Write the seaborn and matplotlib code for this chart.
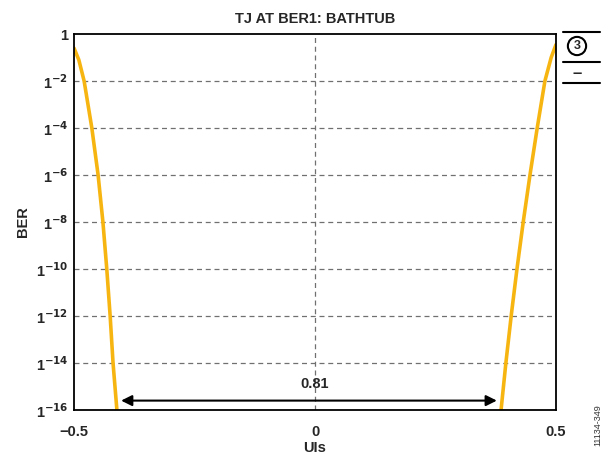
import numpy as np
import pandas as pd
import seaborn as sns
import matplotlib.pyplot as plt

# bathtub curve (x in UI, y as log10 BER)
left_ui = [-0.500, -0.490, -0.479, -0.463, -0.450, -0.440, -0.432, -0.425, -0.419, -0.411]
left_logber = [-0.6, -1.1, -2, -4, -6, -8, -10, -12, -14, -16]
right_ui = [0.386, 0.396, 0.407, 0.419, 0.432, 0.446, 0.461, 0.477, 0.490, 0.500]
right_logber = [-16, -14, -12, -10, -8, -6, -4, -2, -1.0, -0.45]

y_ticks = [0, -2, -4, -6, -8, -10, -12, -14, -16]
y_labels = ["1"] + ["1$^{%d}$" % t for t in y_ticks[1:]]
x_ticks = [-0.5, 0, 0.5]
x_labels = ["\u22120.5", "0", "0.5"]
eye_width = "0.81"

df = pd.concat([
    pd.DataFrame({"UIs": left_ui, "BER": 10.0 ** np.array(left_logber), "side": "L"}),
    pd.DataFrame({"UIs": right_ui, "BER": 10.0 ** np.array(right_logber), "side": "R"}),
])

sns.set_style("white")
plt.rcParams["font.family"] = ["Liberation Sans", "DejaVu Sans"]
plt.rcParams["font.weight"] = "bold"
plt.rcParams["mathtext.default"] = "bf"

fig = plt.figure(figsize=(6.05, 4.61), dpi=100)
ax = fig.add_axes([74 / 605, 1 - 410 / 461, 482 / 605, 376 / 461])

sns.lineplot(data=df, x="UIs", y="BER", units="side", estimator=None,
             color="#F7B512", linewidth=2.6, ax=ax, sort=False)

ax.set_yscale("log")
ax.set_xlim(-0.5, 0.5)
ax.set_ylim(1e-16, 1)
ax.set_yticks([10.0 ** t for t in y_ticks])
ax.set_yticklabels(y_labels, fontsize=10.5, fontweight="bold")
ax.minorticks_off()
ax.set_xticks(x_ticks)
ax.set_xticklabels(x_labels, fontsize=10.5, fontweight="bold")
ax.tick_params(axis="y", length=0, pad=4)
ax.tick_params(axis="x", length=0, pad=11)

for t in y_ticks[1:]:
    ax.axhline(10.0 ** t, color="#707070", linestyle=(0, (4, 3)), linewidth=0.9, zorder=0)
ax.axvline(0, color="#707070", linestyle=(0, (4, 3)), linewidth=0.9, zorder=0)

for s in ax.spines.values():
    s.set_linewidth(1.3)
    s.set_color("black")

ax.set_title("TJ AT BER1: BATHTUB", fontsize=10.5, fontweight="bold", pad=8)
ax.set_xlabel("UIs", fontsize=10.5, fontweight="bold", labelpad=1)
ax.set_ylabel("BER", fontsize=10.5, fontweight="bold", labelpad=4)

# eye opening arrow
ax.annotate("", xy=(left_ui[-1] + 0.003, 10 ** -15.6), xytext=(right_ui[0] - 0.003, 10 ** -15.6),
            arrowprops=dict(arrowstyle="<|-|>", color="black", lw=1.5, mutation_scale=16))
ax.text(0, 10 ** -14.9, eye_width, ha="center", va="center", fontsize=10.5, fontweight="bold")

# side marker
for yy in [32, 62, 83]:
    fig.add_artist(plt.Line2D([563 / 605, 600 / 605], [1 - yy / 461] * 2, color="black", lw=1.5))
fig.text(577 / 605, 1 - 46 / 461, "3", ha="center", va="center", fontsize=9, fontweight="bold",
         bbox=dict(boxstyle="circle,pad=0.25", fc="white", ec="black", lw=1.5))
fig.text(577 / 605, 1 - 73 / 461, "\u2013", ha="center", va="center", fontsize=12, fontweight="bold")
fig.text(598 / 605, 1 - 425 / 461, "11134-349", rotation=90, ha="center", va="center",
         fontsize=6.5, fontweight="normal", color="#333333")

fig.savefig("out.png", dpi=100)
